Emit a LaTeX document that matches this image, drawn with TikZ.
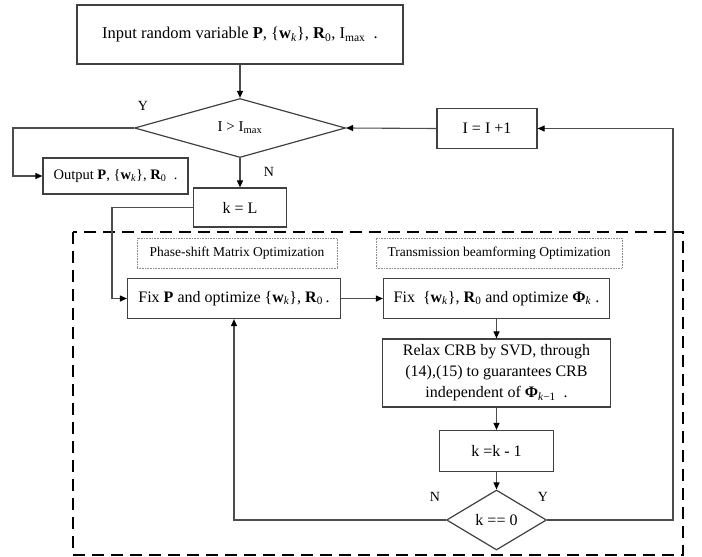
\documentclass[tikz,border=0pt]{standalone}
\usepackage{fontspec}
\setmainfont{Liberation Serif}
\usetikzlibrary{arrows.meta,shapes.geometric}
\newcommand{\bw}{\{\textbf{w}\textsubscript{\textit{k}}\}}
\begin{document}
\begin{tikzpicture}[x=1pt,y=-1pt,
  box/.style={draw=black!75,line width=1.2pt,rectangle,inner sep=0pt,align=center},
  dia/.style={draw=black!75,line width=1.2pt,diamond,inner sep=0pt},
  lab/.style={draw=black!45,densely dotted,line width=0.6pt,rectangle,inner sep=0pt,font=\fontsize{13.5}{16}\selectfont},
  yn/.style={inner sep=0pt,font=\fontsize{14}{16}\selectfont},
  line/.style={draw=black!70,line width=1.1pt},
  arr/.style={line,-{Triangle[length=7pt,width=6pt,color=black]}},
  grp/.style={draw=black,line width=1.7pt,dash pattern=on 12pt off 7pt}]
\useasboundingbox (0,0) rectangle (702,557);
\fontsize{16}{21}\selectfont
\node[box,minimum width=326pt,minimum height=59pt,font=\fontsize{16.5}{20}\selectfont] (input) at (240,34.5)
  {Input random variable \textbf{P}, \bw, \textbf{R}\textsubscript{0}, I\textsubscript{max}\ \ .};
\node[dia,minimum width=211pt,minimum height=59pt,font=\fontsize{15}{18}\selectfont] (d1) at (240,128) {I > I\textsubscript{max}};
\node[box,minimum width=145pt,minimum height=36pt,font=\fontsize{14.5}{18}\selectfont] (out) at (115.5,176)
  {Output \textbf{P}, \bw, \textbf{R}\textsubscript{0}\ \ .};
\node[box,minimum width=93pt,minimum height=39pt] (kL) at (240,207.5) {k = L};
\node[box,minimum width=100pt,minimum height=40pt] (inc) at (487,128.5) {I = I +1};
\draw[grp] (73,232) rectangle (683,555);
\node[lab,minimum width=200pt,minimum height=30pt] (lab1) at (237,253) {Phase-shift Matrix Optimization};
\node[lab,minimum width=246pt,minimum height=30pt] (lab2) at (499,253) {Transmission beamforming Optimization};
\node[box,minimum width=213pt,minimum height=40pt] (fixP) at (234,298.5)
  {Fix \textbf{P} and optimize \bw, \textbf{R}\textsubscript{0}\,.};
\node[box,minimum width=226pt,minimum height=40pt] (fixW) at (496.5,298.5)
  {Fix \ \bw, \textbf{R}\textsubscript{0} and optimize \textbf{Φ}\textsubscript{\textit{k}}\ .};
\node[box,minimum width=228pt,minimum height=68pt] (relax) at (496.5,373)
  {Relax CRB by SVD, through\\(14),(15) to guarantees CRB\\independent of \textbf{Φ}\textsubscript{\textit{k}−1}\ \ .};
\node[box,minimum width=114pt,minimum height=41pt] (km1) at (496.5,451) {k =k - 1};
\node[dia,minimum width=100pt,minimum height=60pt] (d2) at (496.5,520) {k == 0};
\node[yn] (y1) at (143,106) {Y};
\node[yn] (n1) at (269,172) {N};
\node[yn] (n2) at (435,497) {N};
\node[yn] (y2) at (543,497) {Y};
\coordinate (cy) at (13,128);
\coordinate (ck) at (112,207.5);
\coordinate (cr) at (673,520);
\draw[arr] (input.south) -- (d1.north);
\draw[arr] (d1.west) -- (cy) |- (out.west);
\draw[arr] (d1.south) -- (kL.north);
\draw[arr] (kL.west) -- (ck) |- (fixP.west);
\draw[arr] (fixP.east) -- (fixW.west);
\draw[arr] (fixW.south) -- (relax.north);
\draw[arr] (relax.south) -- (km1.north);
\draw[arr] (km1.south) -- (d2.north);
\draw[arr] (d2.west) -| (fixP.south);
\draw[arr] (d2.east) -- (cr) |- (inc.east);
\draw[arr] (inc.west) -- (d1.east);
\end{tikzpicture}
\end{document}
